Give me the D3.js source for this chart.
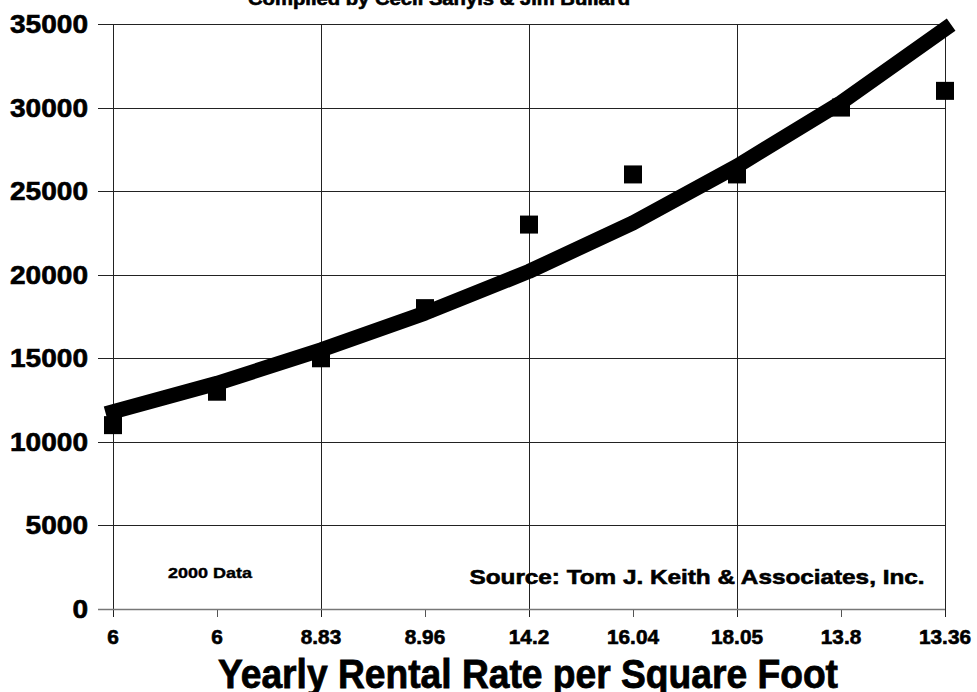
<!DOCTYPE html>
<html>
<head>
<meta charset="utf-8">
<script src="https://cdn.jsdelivr.net/npm/d3@7"></script>
<style>
  body { margin: 0; background: #fff; }
  svg text { font-family: "Liberation Sans", Arial, sans-serif; font-weight: bold; fill: #000; stroke: #000; stroke-width: 0.6px; }
</style>
</head>
<body>
<div id="chart"></div>
<script>
const categories = ["6", "6", "8.83", "8.96", "14.2", "16.04", "18.05", "13.8", "13.36"];
const points = [11000, 13000, 15000, 18000, 23000, 26000, 26000, 30000, 31000];
const trend = [11800, 13500, 15500, 17700, 20200, 23100, 26500, 30300, 34700];
const yTicks = [0, 5000, 10000, 15000, 20000, 25000, 30000, 35000];

const width = 977, height = 692;
const margin = { top: 24, right: 32, bottom: 83, left: 113 };

const svg = d3.select("#chart")
    .append("svg")
    .attr("width", width)
    .attr("height", height);

const idx = categories.map((_, i) => i);
const x = d3.scalePoint()
    .domain(idx)
    .range([margin.left, width - margin.right]);

const y = d3.scaleLinear()
    .domain([0, 35000])
    .range([height - margin.bottom, margin.top]);

// horizontal grid + y ticks
svg.append("g")
    .selectAll("line")
    .data(yTicks.filter(d => d > 0))
    .enter()
    .append("line")
    .attr("x1", margin.left - 15)
    .attr("x2", width - margin.right)
    .attr("y1", d => Math.round(y(d)) + 0.5)
    .attr("y2", d => Math.round(y(d)) + 0.5)
    .attr("stroke", "#222")
    .attr("stroke-width", 1);

// vertical grid at every other category
svg.append("g")
    .selectAll("line")
    .data(idx.filter(i => i % 2 === 0))
    .enter()
    .append("line")
    .attr("x1", d => Math.round(x(d)) + 0.5)
    .attr("x2", d => Math.round(x(d)) + 0.5)
    .attr("y1", margin.top)
    .attr("y2", height - margin.bottom + 8)
    .attr("stroke", "#222")
    .attr("stroke-width", 1);

// minor ticks at odd categories
svg.append("g")
    .selectAll("line")
    .data(idx.filter(i => i % 2 === 1))
    .enter()
    .append("line")
    .attr("x1", d => Math.round(x(d)) + 0.5)
    .attr("x2", d => Math.round(x(d)) + 0.5)
    .attr("y1", height - margin.bottom)
    .attr("y2", height - margin.bottom + 8)
    .attr("stroke", "#555")
    .attr("stroke-width", 1);

// bottom axis line
svg.append("line")
    .attr("x1", margin.left - 15)
    .attr("x2", width - margin.right)
    .attr("y1", Math.round(y(0)) + 0.5)
    .attr("y2", Math.round(y(0)) + 0.5)
    .attr("stroke", "#777")
    .attr("stroke-width", 1.5);

// y labels (widths follow the reference)
svg.append("g")
    .selectAll("text")
    .data(yTicks)
    .enter()
    .append("text")
    .attr("x", 88)
    .attr("y", d => y(d) + 9)
    .attr("text-anchor", "end")
    .attr("font-size", 25)
    .attr("textLength", d => String(d).length * 15.6)
    .attr("lengthAdjust", "spacingAndGlyphs")
    .text(d => d);

// x labels
svg.append("g")
    .selectAll("text")
    .data(idx)
    .enter()
    .append("text")
    .attr("x", d => x(d))
    .attr("y", 644)
    .attr("text-anchor", "middle")
    .attr("font-size", 20)
    .attr("textLength", d => categories[d].length * 11.6 - (categories[d].includes(".") ? 6 : 0))
    .attr("lengthAdjust", "spacingAndGlyphs")
    .text(d => categories[d]);

// trend line
const line = d3.line()
    .x((d, i) => x(i))
    .y(d => y(d));

svg.append("path")
    .datum(trend)
    .attr("d", line)
    .attr("fill", "none")
    .attr("stroke", "#000")
    .attr("stroke-width", 15)
    .attr("stroke-linejoin", "round")
    .attr("stroke-linecap", "square");

// square markers
const s = 18;
svg.append("g")
    .selectAll("rect")
    .data(points)
    .enter()
    .append("rect")
    .attr("x", (d, i) => x(i) - s / 2)
    .attr("y", d => y(d) - s / 2)
    .attr("width", s)
    .attr("height", s)
    .attr("fill", "#000");

// annotations
svg.append("text")
    .attr("x", 210)
    .attr("y", 578)
    .attr("text-anchor", "middle")
    .attr("font-size", 15)
    .attr("textLength", 84)
    .attr("lengthAdjust", "spacingAndGlyphs")
    .style("stroke-width", "0.4px")
    .text("2000 Data");

svg.append("text")
    .attr("x", 697)
    .attr("y", 584)
    .attr("text-anchor", "middle")
    .attr("font-size", 21)
    .attr("textLength", 455)
    .attr("lengthAdjust", "spacingAndGlyphs")
    .text("Source:  Tom J. Keith & Associates, Inc.");

// title (cut off at top)
svg.append("text")
    .attr("x", 439)
    .attr("y", 5)
    .attr("text-anchor", "middle")
    .attr("font-size", 18)
    .attr("textLength", 382)
    .attr("lengthAdjust", "spacingAndGlyphs")
    .text("Compiled by Cecil Sanyis & Jim Bullard");

// x axis title
svg.append("text")
    .attr("x", 528)
    .attr("y", 688)
    .attr("text-anchor", "middle")
    .attr("font-size", 40)
    .attr("textLength", 620)
    .attr("lengthAdjust", "spacingAndGlyphs")
    .style("stroke-width", "0.8px")
    .text("Yearly Rental Rate per Square Foot");
</script>
</body>
</html>
